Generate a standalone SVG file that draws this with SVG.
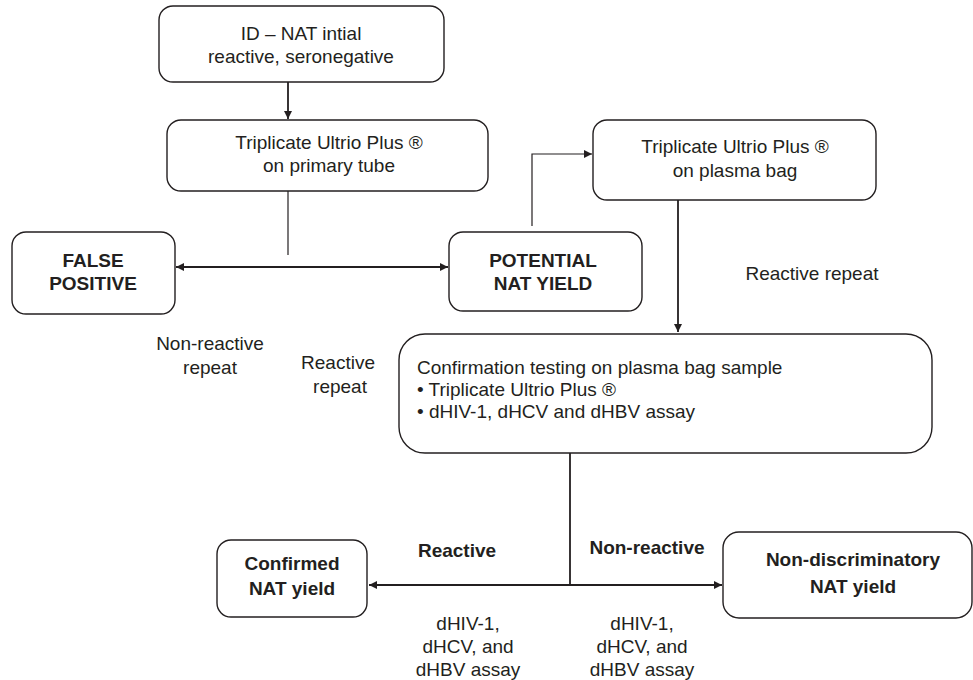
<svg xmlns="http://www.w3.org/2000/svg" width="973" height="680" viewBox="0 0 973 680">
<style>
.box{fill:#fff;stroke:#231f20;stroke-width:1.4}
.t{font-family:"Liberation Sans",Arial,sans-serif;font-size:19px;fill:#231f20}
.c{text-anchor:middle}
.b{font-weight:bold;font-size:19px}
.ln{fill:none;stroke:#231f20;stroke-width:1.8}
.th{fill:none;stroke:#231f20;stroke-width:1.2}
</style>
<defs>
<marker id="ah" viewBox="0 0 10 10" refX="10" refY="5" markerWidth="9" markerHeight="8" markerUnits="userSpaceOnUse" orient="auto-start-reverse">
<path d="M0,0 L10,5 L0,10 z" fill="#231f20"/>
</marker>
</defs>
<rect width="973" height="680" fill="#fff"/>
<g id="connectors">
<line class="ln" x1="288" y1="82" x2="288" y2="119" marker-end="url(#ah)"/>
<line class="th" x1="288" y1="191" x2="288" y2="255"/>
<line class="ln" x1="176" y1="267" x2="448" y2="267" marker-start="url(#ah)" marker-end="url(#ah)"/>
<polyline class="th" points="532,226 532,154 592,154" marker-end="url(#ah)"/>
<line class="ln" x1="678" y1="200" x2="678" y2="332" marker-end="url(#ah)"/>
<line class="ln" x1="570" y1="453" x2="570" y2="585"/>
<line class="ln" x1="369" y1="585" x2="722" y2="585" marker-start="url(#ah)" marker-end="url(#ah)"/>
</g>
<g id="n1"><rect class="box" x="159" y="6" width="285" height="76" rx="14"/>
<text class="t c" x="301" y="40">ID – NAT intial</text><text class="t c" x="301" y="63">reactive, seronegative</text></g>
<g id="n2"><rect class="box" x="167" y="120" width="321" height="71" rx="14"/>
<text class="t c" x="329" y="149">Triplicate Ultrio Plus ®</text><text class="t c" x="329" y="172">on primary tube</text></g>
<g id="n3"><rect class="box" x="12" y="232" width="163" height="82" rx="14"/>
<text class="t c b" x="93" y="267">FALSE</text><text class="t c b" x="93" y="290">POSITIVE</text></g>
<g id="n4"><rect class="box" x="449" y="232" width="193" height="79" rx="14"/>
<text class="t c b" x="543" y="267">POTENTIAL</text><text class="t c b" x="543" y="290">NAT YIELD</text></g>
<g id="n5"><rect class="box" x="593" y="120" width="283" height="80" rx="14"/>
<text class="t c" x="735" y="153">Triplicate Ultrio Plus ®</text><text class="t c" x="735" y="177">on plasma bag</text></g>
<g id="n6"><rect class="box" x="399" y="334" width="533" height="119" rx="26"/>
<text class="t" x="417" y="374">Confirmation testing on plasma bag sample</text>
<text class="t" x="417" y="396">• Triplicate Ultrio Plus ®</text>
<text class="t" x="417" y="418">• dHIV-1, dHCV and dHBV assay</text></g>
<g id="n7"><rect class="box" x="217" y="540" width="150" height="77" rx="14"/>
<text class="t c b" x="292" y="570">Confirmed</text><text class="t c b" x="292" y="595">NAT yield</text></g>
<g id="n8"><rect class="box" x="723" y="532" width="249" height="86" rx="16"/>
<text class="t c b" x="853" y="566">Non-discriminatory</text><text class="t c b" x="853" y="593">NAT yield</text></g>
<g id="labels">
<text class="t c" x="812" y="280">Reactive repeat</text>
<text class="t c" x="210" y="350">Non-reactive</text><text class="t c" x="210" y="374">repeat</text>
<text class="t c" x="338" y="369">Reactive</text><text class="t c" x="340" y="393">repeat</text>
<text class="t c b" x="457" y="557">Reactive</text>
<text class="t c b" x="647" y="554">Non-reactive</text>
<text class="t c" x="468" y="630">dHIV-1,</text><text class="t c" x="468" y="653">dHCV, and</text><text class="t c" x="468" y="676">dHBV assay</text>
<text class="t c" x="642" y="630">dHIV-1,</text><text class="t c" x="642" y="653">dHCV, and</text><text class="t c" x="642" y="676">dHBV assay</text>
</g>
</svg>
